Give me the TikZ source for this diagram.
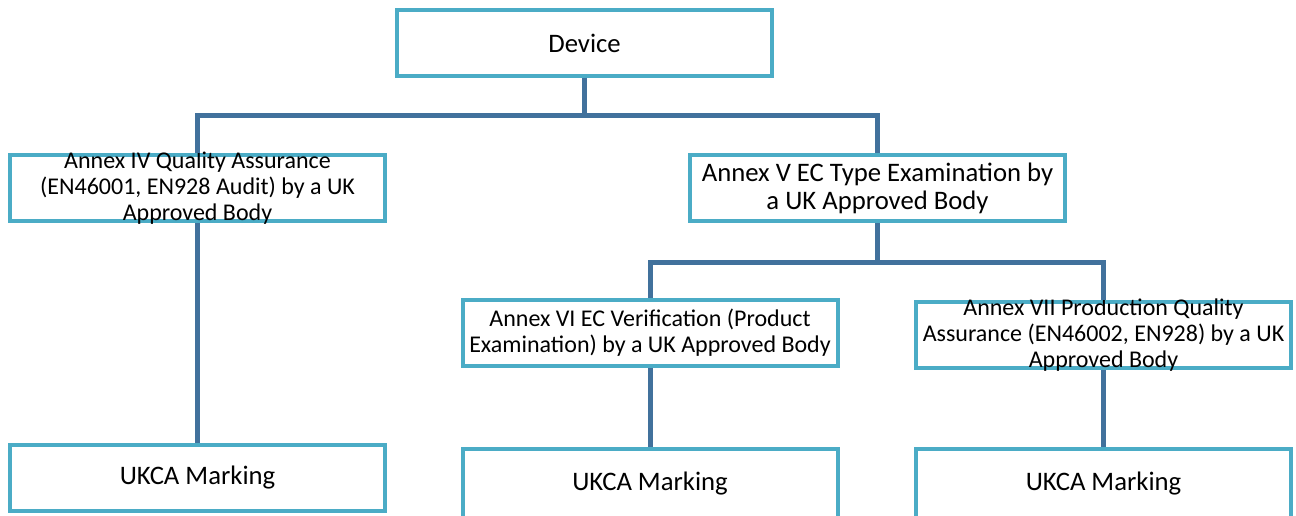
\documentclass[tikz,border=0pt]{standalone}
\usepackage{fontspec}
\setmainfont{Carlito}
\usepackage{tikz}
\usepackage{xcolor}
\usetikzlibrary{positioning,calc}
\definecolor{Frame}{HTML}{4BACC6}
\definecolor{Wire}{HTML}{41719C}

\begin{document}
\begin{tikzpicture}[
  x=1pt,y=-1pt,
  annexbox/.style={draw=Frame,fill=white,line width=4pt,inner xsep=4pt,inner ysep=-6pt,minimum width=375pt,minimum height=66pt,align=center,font=\fontsize{24}{26}\selectfont},
  bigbox/.style={annexbox,font=\fontsize{26.7}{28}\selectfont},
  link/.style={draw=Wire,line width=5pt}
]
\useasboundingbox (0,0) rectangle (1296,516);
\node[bigbox] (dev) at (584.5,43) {Device};
\node[annexbox] (a4) at (197.5,188) {Annex IV Quality Assurance\\(EN46001, EN928 Audit) by a UK\\Approved Body};
\node[bigbox] (a5) at (877.5,188) {Annex V EC Type Examination by\\a UK Approved Body};
\node[annexbox] (a6) at (650,333) {Annex VI EC Verification (Product\\Examination) by a UK Approved Body};
\node[annexbox] (a7) at (1103.5,335) {Annex VII Production Quality\\Assurance (EN46002, EN928) by a UK\\Approved Body};
\node[bigbox] (uk1) at (197.5,477.5) {UKCA Marking};
\node[bigbox,minimum height=70pt] (uk2) at (650,484) {UKCA Marking};
\node[bigbox,minimum height=70pt] (uk3) at (1103.5,484) {UKCA Marking};
\draw[link] (dev.south) -- ++(0,38) -| (a4.north);
\draw[link] (dev.south) -- ++(0,38) -| (a5.north);
\draw[link] (a4.south) -- (uk1.north);
\draw[link] (a5.south) -- ++(0,39) -| (a6.north);
\draw[link] (a5.south) -- ++(0,39) -| (a7.north);
\draw[link] (a6.south) -- (uk2.north);
\draw[link] (a7.south) -- (uk3.north);
\end{tikzpicture}
\end{document}
